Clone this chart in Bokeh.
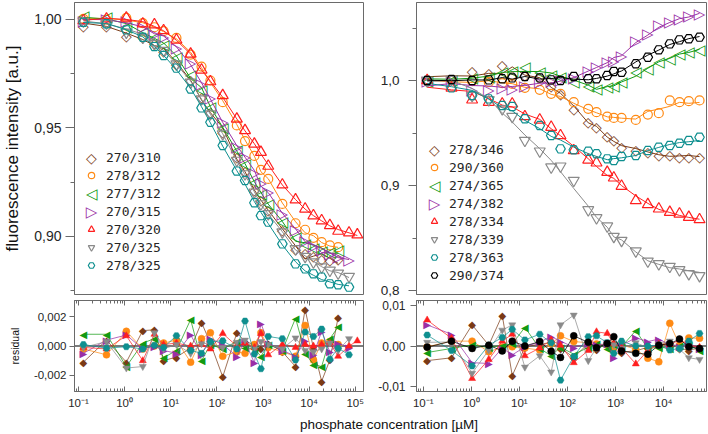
import math
from bokeh.plotting import figure
from bokeh.layouts import row, column
from bokeh.models import (FixedTicker, CustomJSTickFormatter, Legend, LegendItem, CustomLabelingPolicy,
                          Span, Label, LogAxis, Range1d)
from bokeh.core.properties import value
from bokeh.embed import file_html
from bokeh.resources import INLINE

SANS = "Liberation Sans"
MONO = "DejaVu Sans Mono"
SYM = "DejaVu Sans"

# ---------------- data ----------------
conc_left = [0.128, 0.405, 1.09, 2.48, 4.43, 7.0, 13.3, 27.0, 46.5, 72.4, 134, 271, 408,
             650, 902, 1300, 2630, 5080, 8200, 12400, 18700, 28200, 42600, 73300, 111000]
conc_right = [0.121, 0.388, 1.04, 2.31, 4.40, 7.10, 13.0, 26.5, 45.8, 71.6, 135, 270, 401,
              670, 918, 1330, 2630, 4680, 7910, 13400, 21300, 33300, 55600]

labels_left = ["270/310", "278/312", "277/312", "270/315", "270/320", "270/325", "278/325"]
labels_right = ["278/346", "290/360", "274/365", "274/382", "278/334", "278/339", "278/363", "290/374"]

f_270_310 = [0.9971, 0.9971, 0.9925, 0.9917, 0.9890, 0.9856, 0.9794, 0.9718, 0.9644, 0.9572, 0.9480, 0.9365,
             0.9301, 0.9215, 0.9166, 0.9123, 0.9031, 0.8943, 0.8922, 0.8908, 0.8897, 0.8890, 0.8896]
f_278_312 = [1.0002, 0.9998, 1.0006, 0.9982, 0.9963, 0.9945, 0.9914, 0.9837, 0.9782, 0.9718, 0.9618, 0.9511,
             0.9439, 0.9371, 0.9307, 0.9265, 0.9150, 0.9061, 0.9031, 0.8994, 0.8974, 0.8959, 0.8951]
f_277_312 = [1.0017, 1.0009, 0.9966, 0.9940, 0.9917, 0.9883, 0.9828, 0.9745, 0.9675, 0.9598, 0.9500, 0.9396,
             0.9334, 0.9250, 0.9196, 0.9150, 0.9066, 0.8997, 0.8966, 0.8948, 0.8933, 0.8928, 0.8936]
f_270_315 = [0.9994, 1.0002, 0.9991, 0.9963, 0.9933, 0.9920, 0.9868, 0.9798, 0.9702, 0.9638, 0.9526, 0.9411,
             0.9368, 0.9293, 0.9247, 0.9204, 0.9104, 0.9028, 0.8979, 0.8954, 0.8936, 0.8920, 0.8905, 0.8893]
f_270_320 = [0.9994, 1.0002, 1.0006, 0.9979, 0.9975, 0.9948, 0.9905, 0.9840, 0.9767, 0.9713, 0.9649, 0.9541,
             0.9488, 0.9426, 0.9388, 0.9324, 0.9238, 0.9169, 0.9127, 0.9096, 0.9073, 0.9051, 0.9025, 0.9017, 0.9008]
f_270_325 = [0.9991, 0.9982, 0.9940, 0.9917, 0.9887, 0.9856, 0.9794, 0.9710, 0.9633, 0.9564, 0.9472, 0.9350,
             0.9288, 0.9204, 0.9150, 0.9104, 0.9020, 0.8943, 0.8908, 0.8882, 0.8859, 0.8844, 0.8831, 0.8816]
f_278_325 = [0.9986, 0.9979, 0.9951, 0.9917, 0.9874, 0.9833, 0.9775, 0.9679, 0.9592, 0.9526, 0.9419, 0.9301,
             0.9258, 0.9155, 0.9096, 0.9066, 0.8966, 0.8874, 0.8851, 0.8828, 0.8813, 0.8782, 0.8778, 0.8767]

f_278_346 = [1.0000, 1.0016, 1.0095, 1.0070, 1.0143, 1.0057, 1.0048, 1.0032, 0.9943, 0.9873, 0.9730, 0.9603,
             0.9556, 0.9467, 0.9429, 0.9365, 0.9340, 0.9317, 0.9295, 0.9286, 0.9276, 0.9276, 0.9270]
f_290_360 = [1.0000, 1.0000, 0.9994, 0.9984, 0.9975, 0.9968, 0.9930, 0.9911, 0.9873, 0.9873, 0.9794, 0.9730,
             0.9698, 0.9657, 0.9644, 0.9644, 0.9625, 0.9676, 0.9689, 0.9810, 0.9794, 0.9803, 0.9810]
f_274_365 = [1.0000, 1.0006, 1.0025, 1.0038, 1.0079, 1.0089, 1.0133, 1.0079, 1.0048, 1.0038, 0.9984, 0.9952,
             0.9921, 0.9937, 0.9952, 0.9984, 1.0079, 1.0111, 1.0175, 1.0206, 1.0254, 1.0270, 1.0286]
f_274_382 = [1.0000, 1.0000, 0.9911, 0.9905, 0.9930, 0.9921, 0.9952, 0.9984, 1.0000, 1.0006, 1.0025, 1.0095,
             1.0127, 1.0175, 1.0190, 1.0238, 1.0381, 1.0444, 1.0524, 1.0556, 1.0587, 1.0610, 1.0635]
f_278_334 = [1.0000, 0.9930, 0.9816, 0.9794, 0.9778, 0.9778, 0.9657, 0.9625, 0.9556, 0.9476, 0.9333, 0.9244,
             0.9216, 0.9127, 0.9073, 0.8994, 0.8857, 0.8819, 0.8778, 0.8746, 0.8730, 0.8698, 0.8676]
f_278_339 = [1.0000, 1.0010, 0.9857, 0.9816, 0.9730, 0.9657, 0.9429, 0.9327, 0.9175, 0.9184, 0.9048, 0.8768,
             0.8692, 0.8613, 0.8514, 0.8476, 0.8375, 0.8279, 0.8254, 0.8229, 0.8197, 0.8159, 0.8140]
f_278_363 = [1.0000, 0.9930, 0.9857, 0.9825, 0.9762, 0.9752, 0.9635, 0.9571, 0.9476, 0.9349, 0.9340, 0.9327,
             0.9302, 0.9254, 0.9238, 0.9276, 0.9286, 0.9333, 0.9365, 0.9381, 0.9403, 0.9429, 0.9460]
f_290_374 = [1.0000, 1.0010, 1.0000, 1.0006, 1.0016, 1.0025, 1.0038, 1.0025, 1.0006, 1.0000, 1.0038, 1.0016,
             1.0016, 1.0048, 1.0086, 1.0079, 1.0159, 1.0222, 1.0292, 1.0349, 1.0387, 1.0397, 1.0413]

# residuals, in units of 1e-3
r_270_310 = [-1.1, 0.4, -1.1, 1.05, 1.1, -1.0, -0.75, -0.15, 1.6, 0.2, -2.1, 0.9, 0.3, 0.1, -0.15, 0.2,
             -0.4, -1.4, 2.5, -0.15, -2.4, -0.95, 1.95]
r_278_312 = [-0.2, -0.6, 1.0, -0.2, 0.0, 0.2, 0.4, -1.1, 0.5, 0.9, -0.7, -0.4, -0.5, 0.1, 0.9, -0.1,
             -0.4, -0.7, 1.4, -0.95, 0.2, 0.3, 0.1]
r_277_312 = [0.8, 0.8, -1.4, 0.2, 0.5, -0.8, -0.3, 1.8, -1.0, 0.1, -0.2, 0.3, -0.1, -0.2, -0.7, 0.1,
             -0.3, 1.9, -0.5, -1.25, -1.4, 0.5, 1.3]
r_270_315 = [-0.5, 0.4, 0.75, -0.2, 0.0, -0.3, -0.5, 0.75, -0.55, 0.5, 0.1, -0.7, 0.3, -1.15, 1.55, 0.2,
             -0.3, -0.7, 0.35, -0.6, 1.0, -0.4, 0.2, -0.1]
r_270_320 = [-0.1, -0.2, 0.7, -1.0, 0.8, 0.1, 0.2, 0.0, 0.1, -0.2, 0.85, 0.0, 0.2, -0.1, 0.85, -0.6,
             0.1, -0.1, 0.1, 0.0, 0.1, 0.2, -0.7, 0.0, 0.35]
r_270_325 = [-0.1, 0.3, -1.5, -1.4, 0.9, -0.2, 0.1, -0.5, 0.15, 0.2, -0.1, 0.25, 0.4, -0.2, 0.3, 0.1,
             -0.2, 0.55, -0.3, -0.4, -0.2, 0.2, -0.3, 0.5]
r_278_325 = [0.1, -0.15, -0.05, -0.2, 0.05, -0.1, 0.7, -0.3, -0.5, 0.3, 0.35, -0.2, 1.7, -0.55, -1.55, 0.65,
             0.5, -0.95, 0.95, 0.65, 1.15, -0.9, -0.15, -0.6]

r_278_346 = [-3.6, -2.9, 5.2, 0.2, 7.6, -7.3, -0.3, 0.5, 0.8, -0.5, -2.8, 0.6, -0.8, 0.6, 0.9, -1.5,
             -1.2, -0.3, 0.2, 0.8, -0.6, -1.0, -0.5]
r_290_360 = [-0.2, 1.2, 1.2, -1.4, -0.3, -0.2, -0.5, -1.0, 0.5, 2.5, 1.1, 0.8, 0.5, 0.3, -0.5, 0.3,
             -0.8, -3.0, -3.9, 5.6, 0.2, 2.0, 1.9]
r_274_365 = [-1.6, -0.6, 0.3, -0.4, 0.2, 0.5, 4.6, -0.6, -2.4, -0.3, -2.0, -0.4, 0.5, -0.5, 0.3, -0.2,
             3.8, -0.6, -0.3, -0.5, 0.2, 0.3, -1.1]
r_274_382 = [5.2, 2.9, -4.1, -4.3, -0.5, -2.2, -0.2, 1.0, 2.3, 1.2, -0.3, 0.5, 0.3, 0.5, -2.9, 0.2,
             2.0, 1.1, 1.7, 0.3, -0.2, 0.5, -0.5]
r_278_334 = [6.4, 1.9, -8.0, -3.3, 1.2, 2.9, -2.4, -0.5, 1.5, 0.2, -4.1, -1.1, 3.5, 3.1, 0.5, -0.5,
             -4.4, -1.1, 0.5, 0.3, 1.5, 0.2, -0.3]
r_278_339 = [0.9, 1.0, -6.7, -1.0, 3.9, 5.2, -5.2, -2.4, -6.4, 5.2, 7.6, -3.6, -0.5, 1.0, 0.3, -0.6,
             0.8, -0.4, 0.5, 1.2, -0.8, -2.9, -3.3]
r_278_363 = [2.7, -1.1, -4.9, 0.2, 2.1, 4.1, 1.5, 2.9, 0.8, -8.4, -2.6, 2.3, 2.5, 0.8, -1.8, 1.2,
             0.0, 0.0, 0.2, -1.0, -0.6, 1.2, 3.1]
r_290_374 = [-0.3, 1.2, -0.6, 0.2, -1.2, 1.2, 0.0, 1.1, -1.3, -2.8, 2.5, 0.9, -0.4, 0.6, 2.3, -1.2,
             -1.8, -2.0, 0.2, 0.6, 1.7, -0.2, -0.6]

decades_left = [0.1, 1, 10, 100, 1000, 10000, 100000]
decades_right = [0.1, 1, 10, 100, 1000, 10000]

# ---------------- styles ----------------
BROWN, ORANGE, GREEN, PURPLE = "#7a3a16", "#ff8a14", "#129a12", "#9a2fa6"
RED, GRAY, TEAL, BLACK = "#ff1f1f", "#8a8a8a", "#0e8f8f", "#000000"
FRAME = "#6a6a6a"
TXT = "#262626"

# marker kind, size, open glyph char, filled glyph char
M_DIAMOND = ("text", 14, "\u25c7", "\u25c6")
M_CIRCLE = ("circle", 9, None, None)
M_LEFT = ("text", 15, "\u25c1", "\u25c0")
M_RIGHT = ("text", 15, "\u25b7", "\u25b6")
M_UP = ("triangle", 11, None, None)
M_DOWN = ("inverted_triangle", 11, None, None)
M_HEX = ("hex", 9.5, None, None)
M_PENT = ("hex", 9.5, None, None)

left_series = [
    (labels_left[0], f_270_310, r_270_310, BROWN, M_DIAMOND),
    (labels_left[1], f_278_312, r_278_312, ORANGE, M_CIRCLE),
    (labels_left[2], f_277_312, r_277_312, GREEN, M_LEFT),
    (labels_left[3], f_270_315, r_270_315, PURPLE, M_RIGHT),
    (labels_left[4], f_270_320, r_270_320, RED, M_UP),
    (labels_left[5], f_270_325, r_270_325, GRAY, M_DOWN),
    (labels_left[6], f_278_325, r_278_325, TEAL, M_HEX),
]
right_series = [
    (labels_right[0], f_278_346, r_278_346, BROWN, M_DIAMOND),
    (labels_right[1], f_290_360, r_290_360, ORANGE, M_CIRCLE),
    (labels_right[2], f_274_365, r_274_365, GREEN, M_LEFT),
    (labels_right[3], f_274_382, r_274_382, PURPLE, M_RIGHT),
    (labels_right[4], f_278_334, r_278_334, RED, M_UP),
    (labels_right[5], f_278_339, r_278_339, GRAY, M_DOWN),
    (labels_right[6], f_278_363, r_278_363, TEAL, M_HEX),
    (labels_right[7], f_290_374, r_290_374, BLACK, M_PENT),
]


def comma_fmt(digits):
    return CustomJSTickFormatter(code="return tick.toFixed(%d).replace('.', ',');" % digits)


LOG_FMT = CustomJSTickFormatter(code=r"""
const e = Math.round(Math.log10(tick));
const m = {"-":"\u207b","0":"\u2070","1":"\u00b9","2":"\u00b2","3":"\u00b3","4":"\u2074",
           "5":"\u2075","6":"\u2076","7":"\u2077","8":"\u2078","9":"\u2079"};
let s = "";
for (const c of String(e)) { s += m[c]; }
return "10" + s;
""")
EMPTY_FMT = CustomJSTickFormatter(code="return '';")
HIDE_ALL = CustomLabelingPolicy(code="""
const ids = Array.from(indices);
for (const i of ids) { indices.unset(i); }
return indices;
""")


def log_ticker(decades):
    minors = []
    for d in [decades[0] / 10] + decades:
        for k in range(2, 10):
            minors.append(k * d)
    return FixedTicker(ticks=decades, minor_ticks=minors)


def base_fig(width, height, xr, yr, bl, br, bt, bb, x_axis=True):
    f = figure(width=width, height=height, x_axis_type="log", x_range=xr, y_range=yr,
               x_axis_location="below" if x_axis else None,
               min_border_left=bl, min_border_right=br, min_border_top=bt, min_border_bottom=bb,
               output_backend="svg", toolbar_location=None)
    f.grid.visible = False
    f.outline_line_color = FRAME
    f.outline_line_width = 1
    f.background_fill_color = "white"
    f.border_fill_color = "white"
    return f


def style_y(ax, ticks, minors, digits, fs, tick_out, standoff):
    ax.ticker = FixedTicker(ticks=ticks, minor_ticks=minors)
    ax.formatter = comma_fmt(digits)
    ax.major_tick_out = tick_out
    ax.major_tick_in = 0
    ax.minor_tick_out = 4
    ax.minor_tick_in = 0
    ax.axis_line_color = FRAME
    ax.major_tick_line_color = FRAME
    ax.minor_tick_line_color = FRAME
    ax.major_label_text_font = SANS
    ax.major_label_text_font_size = fs
    ax.major_label_text_color = TXT
    ax.major_label_standoff = standoff


def style_x(ax, decades, show_labels=True):
    ax.ticker = log_ticker(decades)
    ax.major_tick_in = 5
    ax.major_tick_out = 0
    ax.minor_tick_in = 3
    ax.minor_tick_out = 0
    ax.axis_line_color = FRAME
    ax.major_tick_line_color = FRAME
    ax.minor_tick_line_color = FRAME
    ax.major_label_text_font = SANS
    ax.major_label_text_color = TXT
    if show_labels:
        ax.formatter = LOG_FMT
        ax.major_label_text_font_size = "11.5px"
        ax.major_label_standoff = 5
    else:
        ax.formatter = EMPTY_FMT
        ax.major_label_policy = HIDE_ALL
        ax.major_label_text_font_size = "2px"
        ax.major_label_standoff = 0


LEG_ROW = 18
LEG_GLYPH_W = 16


def draw_main(f, conc, series, loc):
    items = []
    n = len(series)
    for idx, (label, vals, res, color, (mk, size, ch_open, ch_fill)) in enumerate(series):
        x = conc[:len(vals)]
        fit = [v - r * 1e-3 for v, r in zip(vals, res)]
        f.line(x[:len(fit)], fit, line_color=color, line_width=1)
        if mk == "text":
            g = f.text(x, vals, text=value(ch_open), text_font=value(SYM), text_font_size="%dpx" % size,
                       text_align="center", text_baseline="middle", text_color=color)
            # legend icon for this row (legend glyph area, frame-relative screen units)
            f.add_layout(Label(x=loc[0] + LEG_GLYPH_W / 2, y=loc[1] + LEG_ROW * (n - idx) - LEG_ROW / 2,
                               x_units="screen", y_units="screen", text=ch_open, text_font=SYM,
                               text_font_size="%dpx" % size, text_align="center",
                               text_baseline="middle", text_color=color))
        else:
            g = f.scatter(x, vals, marker=mk, size=size, fill_color=None,
                          line_color=color, line_width=1.2)
        items.append(LegendItem(label=label, renderers=[g]))
    leg = Legend(items=items, location=loc, label_text_font=MONO, label_text_font_size="13px",
                 label_text_color=TXT, glyph_width=LEG_GLYPH_W, glyph_height=LEG_ROW, label_height=LEG_ROW,
                 label_standoff=7, spacing=0, padding=0, margin=0, border_line_color=None,
                 background_fill_alpha=0)
    f.add_layout(leg)


def draw_res(f, conc, series):
    f.add_layout(Span(location=0, dimension="width", line_color="#505050", line_width=1.5, level="underlay"))
    for label, vals, res, color, (mk, size, ch_open, ch_fill) in series:
        x = conc[:len(res)]
        y = [r * 1e-3 for r in res]
        f.line(x, y, line_color=color, line_width=0.8, line_alpha=0.9)
        if mk == "text":
            f.text(x, y, text=value(ch_fill), text_font=value(SYM), text_font_size="10px",
                   text_align="center", text_baseline="middle", text_color=color)
        else:
            m = "circle" if color == BLACK else mk
            f.scatter(x, y, marker=m, size=7, fill_color=color, line_color=color, line_width=0.5)


# ---------------- figures ----------------
xr_left = Range1d(0.082, 151000)
xr_right = Range1d(0.0726, 77600)

LW, RW = 365, 343
MAIN_H, RES_H, STRIP_H = 298, 114, 21

mainL = base_fig(LW, MAIN_H, xr_left, Range1d(0.8733, 1.0077), 71, 2, 2, 4, x_axis=False)
style_y(mainL.yaxis[0], [0.90, 0.95, 1.00], [0.875, 0.925, 0.975], 2, "14px", 9, 4)
mainL.yaxis[0].axis_label = "fluorescence intensity [a.u.]"
mainL.yaxis[0].axis_label_text_font = SANS
mainL.yaxis[0].axis_label_text_font_size = "17px"
mainL.yaxis[0].axis_label_text_font_style = "normal"
mainL.yaxis[0].axis_label_text_color = "#111111"
mainL.yaxis[0].axis_label_standoff = 9
draw_main(mainL, conc_left, left_series, (9, 20))

mainR = base_fig(RW, MAIN_H, xr_right, Range1d(0.7962, 1.0743), 51, 2, 2, 4, x_axis=False)
style_y(mainR.yaxis[0], [0.8, 0.9, 1.0], [0.85, 0.95, 1.05], 1, "13.5px", 8, 9)
draw_main(mainR, conc_right, right_series, (10, 10))

resL = base_fig(LW, RES_H, xr_left, Range1d(-0.0031, 0.0031), 71, 2, 2, 21)
style_y(resL.yaxis[0], [-0.002, 0.0, 0.002], [], 3, "11.5px", 5, 3)
resL.yaxis[0].minor_tick_out = 0
resL.yaxis[0].axis_label = "residual"
resL.yaxis[0].axis_label_text_font = SANS
resL.yaxis[0].axis_label_text_font_size = "10.5px"
resL.yaxis[0].axis_label_text_font_style = "normal"
resL.yaxis[0].axis_label_text_color = "#111111"
resL.yaxis[0].axis_label_standoff = 10
style_x(resL.xaxis[0], decades_left)
topL = LogAxis()
style_x(topL, decades_left, show_labels=False)
resL.add_layout(topL, "above")
draw_res(resL, conc_left, left_series)

resR = base_fig(RW, RES_H, xr_right, Range1d(-0.0112, 0.0112), 51, 2, 2, 21)
style_y(resR.yaxis[0], [-0.01, 0.0, 0.01], [], 2, "12px", 6, 5)
resR.yaxis[0].minor_tick_out = 0
style_x(resR.xaxis[0], decades_right)
topR = LogAxis()
style_x(topR, decades_right, show_labels=False)
resR.add_layout(topR, "above")
draw_res(resR, conc_right, right_series)

strip = figure(width=LW + RW, height=STRIP_H, x_range=Range1d(0, LW + RW), y_range=Range1d(0, STRIP_H),
               x_axis_location=None, y_axis_location=None, min_border=0,
               output_backend="svg", toolbar_location=None)
strip.grid.visible = False
strip.outline_line_color = None
strip.add_layout(Label(x=(71 + LW + RW - 2) / 2, y=STRIP_H / 2 - 1,
                       text="phosphate concentration [\u00b5M]", text_align="center",
                       text_baseline="middle", text_font=SANS, text_font_size="13.5px",
                       text_color="#111111"))

layout = column(row(column(mainL, resL), column(mainR, resR)), strip)

open("out.html", "w", encoding="utf-8").write(file_html(layout, INLINE))
